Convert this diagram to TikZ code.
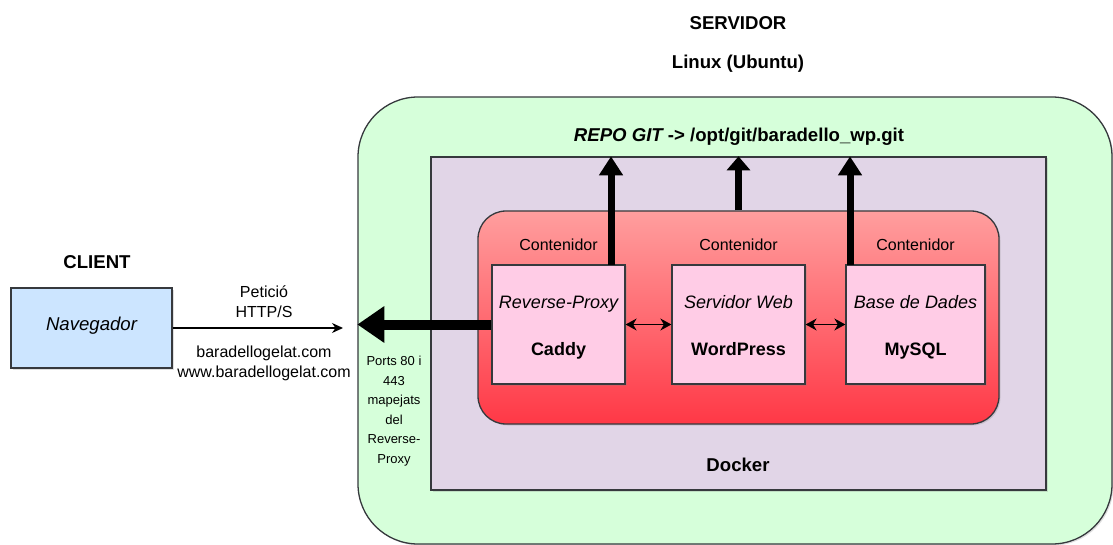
\documentclass[tikz,border=0pt]{standalone}
\usepackage{fontspec}
\setmainfont{Liberation Sans}
\usetikzlibrary{arrows.meta,positioning,shadows}
\definecolor{SrvGreen}{RGB}{214,255,218}
\definecolor{DockPurple}{RGB}{225,213,231}
\definecolor{BoxPink}{RGB}{255,204,230}
\definecolor{NavBlue}{RGB}{204,229,255}
\definecolor{RedTop}{RGB}{255,158,158}
\definecolor{RedBot}{RGB}{255,56,70}
\definecolor{Edge}{RGB}{54,57,61}
\newcommand{\topstrut}{\rule{0pt}{19pt}}
\newcommand{\botstrut}{\rule[-4pt]{0pt}{4pt}}

\begin{document}
\begin{tikzpicture}[x = 1pt, y = -1pt]
		\tikzset{> = Stealth}
		\tikzset{
			boxline/.style = {draw = Edge, line width = 1.3pt, drop shadow = {shadow xshift = 1.5pt, shadow yshift = -1.5pt, opacity = 0.25}},
			appbox/.style = {boxline, fill = BoxPink, minimum height = 119pt, align = center, font = \fontsize{18}{21}\selectfont},
			title/.style = {font = \fontsize{18.6}{22}\selectfont\bfseries},
			txt/.style = {font = \fontsize{16}{20}\selectfont, align = center},
			link/.style = {line width = 1.3pt, {Stealth[length = 11pt, width = 12pt]}-{Stealth[length = 11pt, width = 12pt]}},
			fat/.style = {line width = 7pt, -{Triangle[width = 23pt, length = 19pt]}}
		}
		\useasboundingbox (0,0) rectangle (1113,545);
		% titles
		\node[title] (Server) at (738,23) {SERVIDOR};
		\node[title] (OS) at (738,64) {Linux (Ubuntu)};
		\node[title] (Client) at (97,262) {CLIENT};
		% client side
		\node[boxline, fill = NavBlue, minimum width = 161pt, minimum height = 80pt, font = \fontsize{18.6}{22}\selectfont\itshape] (Nav) at (91.5,328) {Navegador\rule[-8pt]{0pt}{8pt}};
		\node[txt] (Req) at (264,302) {Petició\\HTTP/S};
		\node[txt] (Dom) at (264,363) {baradellogelat.com\\www.baradellogelat.com};
		\coordinate (Hit) at (343,328);
		\draw[line width = 1.3pt, -{Stealth[length = 11pt, width = 10pt]}] (Nav.east) -- (Hit);
		% server boxes
		\node[boxline, fill = SrvGreen, rounded corners = 60pt, minimum width = 754pt, minimum height = 447pt] (Srv) at (735,320.5) {};
		\node[boxline, fill = DockPurple, minimum width = 615pt, minimum height = 333pt] (Dock) at (738.5,323.5) {};
		\node[boxline, top color = RedTop, bottom color = RedBot, rounded corners = 28pt, minimum width = 521pt, minimum height = 213pt] (Cont) at (738.5,317.5) {};
		\node[title] (Repo) at (739,137) {\itshape REPO GIT\upshape{} -> /opt/git/baradello\_wp.git};
		\node[title] (Docker) at (738,465) {Docker};
		\node[font = \fontsize{13}{19.5}\selectfont, align = center] (Ports) at (394,411) {Ports 80 i\\443\\mapejats\\del\\Reverse-\\Proxy};
		% containers
		\node[appbox, minimum width = 133pt] (Caddy) at (558.5,324.5) {\topstrut{\itshape Reverse-Proxy}\\[26pt]\textbf{Caddy}\botstrut};
		\node[appbox, minimum width = 133pt] (WP) at (738.5,324.5) {\topstrut{\itshape Servidor Web}\\[26pt]\textbf{WordPress}\botstrut};
		\node[appbox, minimum width = 139pt] (DB) at (915.5,324.5) {\topstrut{\itshape Base de Dades}\\[26pt]\textbf{MySQL}\botstrut};
		\node[txt, inner sep = 0pt, above = 13pt of Caddy] (CCaddy) {Contenidor};
		\node[txt, inner sep = 0pt, above = 13pt of WP] (CWP) {Contenidor};
		\node[txt, inner sep = 0pt, above = 13pt of DB] (CDB) {Contenidor};
		% links
		\draw[link] (Caddy) -- (WP);
		\draw[link] (WP) -- (DB);
		\draw[line width = 10pt, -{Triangle[width = 35pt, length = 27pt]}] (Caddy.west) -- (Caddy.west -| Srv.west);
		\coordinate (UpA) at (611,265);
		\coordinate (UpC) at (850,265);
		\draw[fat] (UpA) -- (UpA |- Dock.north);
		\draw[fat, -{Triangle[width = 23pt, length = 14pt]}] (Cont.north) -- (Cont.north |- Dock.north);
		\draw[fat] (UpC) -- (UpC |- Dock.north);
	\end{tikzpicture}
\end{document}
